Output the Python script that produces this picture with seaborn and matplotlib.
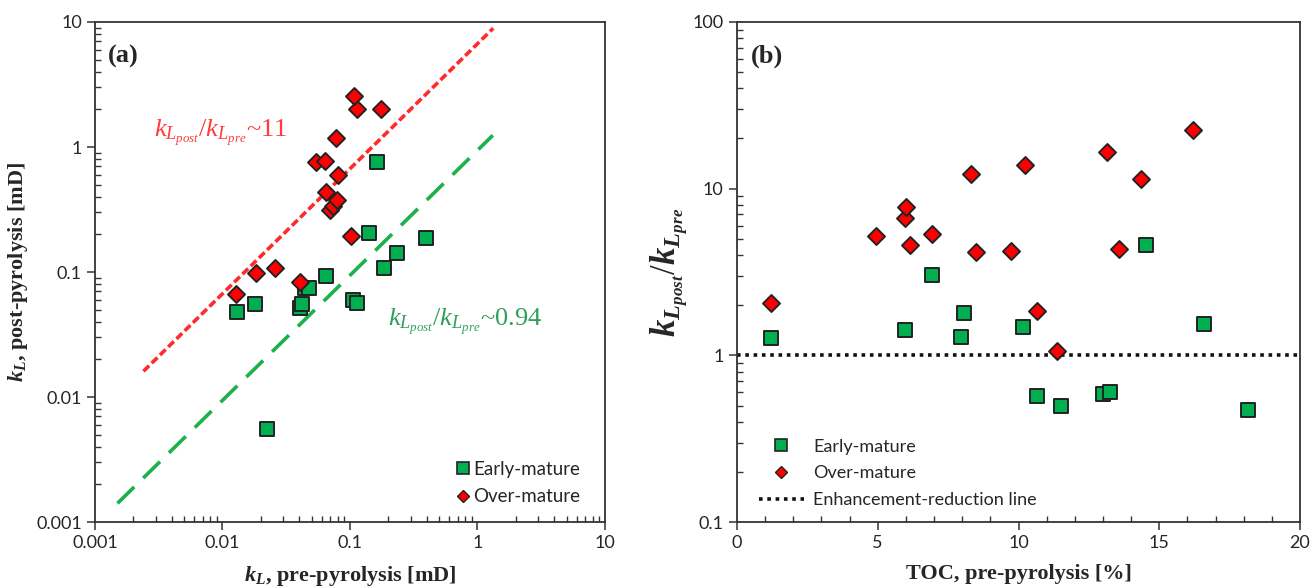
import numpy as np
import pandas as pd
import matplotlib
matplotlib.use("Agg")
import matplotlib.pyplot as plt
from matplotlib.lines import Line2D
from matplotlib.ticker import LogLocator, MultipleLocator, FixedLocator
import seaborn as sns

# --- datos panel (a): permeabilidad pre vs post pirólisis [mD]
early_pre = [0.013, 0.018, 0.0223, 0.0405, 0.042, 0.044, 0.0477, 0.065, 0.106, 0.113, 0.141, 0.163, 0.185, 0.234, 0.394]
early_post = [0.048, 0.055, 0.0055, 0.0514, 0.0555, 0.0745, 0.0745, 0.093, 0.0597, 0.057, 0.205, 0.76, 0.108, 0.142, 0.187]
over_pre = [0.0128, 0.0183, 0.0259, 0.0405, 0.102, 0.070, 0.074, 0.079, 0.065, 0.080, 0.054, 0.0636, 0.078, 0.113, 0.107, 0.175]
over_post = [0.067, 0.098, 0.108, 0.083, 0.194, 0.313, 0.34, 0.377, 0.437, 0.60, 0.76, 0.77, 1.18, 2.01, 2.56, 2.0]

# rectas de razón k_post/k_pre
red_fit_x = [0.0024, 1.33]
red_fit_ratio = 6.7
green_fit_x = [0.0015, 1.32]
green_fit_ratio = 0.94

# --- datos panel (b): razón vs TOC [%]
early_toc = [1.21, 5.96, 6.91, 7.96, 8.06, 10.16, 10.65, 11.51, 13.0, 13.25, 14.53, 16.59, 18.15]
early_ratio = [1.27, 1.42, 3.03, 1.29, 1.79, 1.48, 0.573, 0.499, 0.583, 0.602, 4.61, 1.54, 0.473]
over_toc = [1.22, 4.93, 5.96, 6.0, 6.15, 6.94, 8.32, 8.5, 9.74, 10.22, 10.66, 11.35, 13.16, 13.56, 14.34, 16.18]
over_ratio = [2.07, 5.21, 6.67, 7.78, 4.57, 5.31, 12.3, 4.15, 4.22, 13.8, 1.85, 1.06, 16.7, 4.32, 11.4, 22.6]

log_ticks_a = [0.001, 0.01, 0.1, 1, 10]
log_ticklabels_a = ['0.001', '0.01', '0.1', '1', '10']
log_ticks_b = [0.1, 1, 10, 100]
log_ticklabels_b = ['0.1', '1', '10', '100']

GREEN = '#00B050'
RED = '#FF0000'

sns.set_theme(style='white')
plt.rcParams['font.family'] = ['Lato', 'DejaVu Sans']
plt.rcParams['mathtext.fontset'] = 'custom'
plt.rcParams['mathtext.rm'] = 'Liberation Serif'
plt.rcParams['mathtext.it'] = 'Liberation Serif:italic'
plt.rcParams['mathtext.bf'] = 'Liberation Serif:bold'
plt.rcParams['mathtext.bfit'] = 'Liberation Serif:italic:bold'

df_a = pd.concat([
    pd.DataFrame({'pre': early_pre, 'post': early_post, 'grupo': 'Early-mature'}),
    pd.DataFrame({'pre': over_pre, 'post': over_post, 'grupo': 'Over-mature'}),
])
df_b = pd.concat([
    pd.DataFrame({'toc': early_toc, 'ratio': early_ratio, 'grupo': 'Early-mature'}),
    pd.DataFrame({'toc': over_toc, 'ratio': over_ratio, 'grupo': 'Over-mature'}),
])

palette = {'Early-mature': GREEN, 'Over-mature': RED}
markers = {'Early-mature': 's', 'Over-mature': 'D'}
sizes = {'Early-mature': 90, 'Over-mature': 75}

fig = plt.figure(figsize=(13.12, 5.88), dpi=100)
ax1 = fig.add_axes([0.0724, 0.1122, 0.3887, 0.8504])
ax2 = fig.add_axes([0.5617, 0.1122, 0.4292, 0.8504])

serif = 'Liberation Serif'

def estilo_ejes(ax):
    for s in ax.spines.values():
        s.set_visible(True)
        s.set_color('#333333')
        s.set_linewidth(1.3)
    ax.tick_params(which='major', direction='out', length=6, width=1.1, color='#333333',
                   labelsize=13, bottom=True, left=True)
    ax.tick_params(which='minor', direction='in', length=4, width=1.0, color='#333333',
                   bottom=True, left=True)

# ---------------- panel (a)
for g in ['Early-mature', 'Over-mature']:
    sub = df_a[df_a['grupo'] == g]
    sns.scatterplot(data=sub, x='pre', y='post', marker=markers[g], color=palette[g],
                    s=sizes[g], edgecolor='#222222', linewidth=1.4, ax=ax1, legend=False, zorder=3)

rx = np.array(red_fit_x)
gx = np.array(green_fit_x)
ax1.plot(rx, red_fit_ratio * rx, color='#FF2A2A', lw=2.6, dashes=(2.2, 1.0), zorder=2)
ax1.plot(gx, green_fit_ratio * gx, color='#1DB04B', lw=2.6, dashes=(6.5, 3.5), zorder=2)

ax1.set_xscale('log')
ax1.set_yscale('log')
ax1.set_xlim(0.001, 10)
ax1.set_ylim(0.001, 10)
ax1.xaxis.set_major_locator(FixedLocator(log_ticks_a))
ax1.yaxis.set_major_locator(FixedLocator(log_ticks_a))
ax1.xaxis.set_minor_locator(LogLocator(base=10, subs=np.arange(2, 10)))
ax1.yaxis.set_minor_locator(LogLocator(base=10, subs=np.arange(2, 10)))
ax1.set_xticklabels(log_ticklabels_a)
ax1.set_yticklabels(log_ticklabels_a)
estilo_ejes(ax1)

ax1.set_xlabel(r'$\mathbfit{k}_{\mathbfit{L}}$, pre-pyrolysis [mD]', family=serif, fontweight='bold',
               fontsize=16, labelpad=9)
ax1.set_ylabel(r'$\mathbfit{k}_{\mathbfit{L}}$, post-pyrolysis [mD]', family=serif, fontweight='bold',
               fontsize=16, labelpad=4)
ax1.text(0.025, 0.955, '(a)', transform=ax1.transAxes, family=serif, fontweight='bold', fontsize=19, va='top')
ax1.text(0.0029, 1.3, r'$k_{L_{post}}/k_{L_{pre}}$~11', color='#FF3B3B', fontsize=19, family=serif, va='center')
ax1.text(0.2, 0.04, r'$k_{L_{post}}/k_{L_{pre}}$~0.94', color='#2E9E5B', fontsize=19, family=serif, va='center')

h1 = [Line2D([], [], ls='none', marker='s', mfc=GREEN, mec='#222222', mew=1.2, ms=8),
      Line2D([], [], ls='none', marker='D', mfc=RED, mec='#222222', mew=1.0, ms=6.5)]
ax1.legend(h1, ['Early-mature', 'Over-mature'], loc='lower right', frameon=False, fontsize=13.5,
           handletextpad=0.05, handlelength=1.0, labelspacing=0.55, bbox_to_anchor=(0.985, 0.0))

# ---------------- panel (b)
for g in ['Early-mature', 'Over-mature']:
    sub = df_b[df_b['grupo'] == g]
    sns.scatterplot(data=sub, x='toc', y='ratio', marker=markers[g], color=palette[g],
                    s=sizes[g], edgecolor='#222222', linewidth=1.4, ax=ax2, legend=False, zorder=3)
ax2.axhline(1, color='#111111', lw=2.6, dashes=(1.0, 1.3), zorder=2)

ax2.set_yscale('log')
ax2.set_xlim(0, 20)
ax2.set_ylim(0.1, 100)
ax2.xaxis.set_major_locator(MultipleLocator(5))
ax2.xaxis.set_minor_locator(MultipleLocator(1))
ax2.yaxis.set_major_locator(FixedLocator(log_ticks_b))
ax2.yaxis.set_minor_locator(LogLocator(base=10, subs=np.arange(2, 10)))
ax2.set_yticklabels(log_ticklabels_b)
estilo_ejes(ax2)

ax2.set_xlabel('TOC, pre-pyrolysis [%]', family=serif, fontweight='bold', fontsize=16, labelpad=9)
ax2.set_ylabel(r'$\mathbfit{k}_{\mathbfit{L}_{\mathbfit{post}}}/\mathbfit{k}_{\mathbfit{L}_{\mathbfit{pre}}}$',
               family=serif, fontsize=25, labelpad=2)
ax2.text(0.025, 0.955, '(b)', transform=ax2.transAxes, family=serif, fontweight='bold', fontsize=19, va='top')

h2 = [Line2D([], [], ls='none', marker='s', mfc=GREEN, mec='#222222', mew=1.2, ms=8),
      Line2D([], [], ls='none', marker='D', mfc=RED, mec='#222222', mew=1.0, ms=6.5),
      Line2D([], [], color='#111111', lw=2.6, dashes=(1.0, 1.3))]
ax2.legend(h2, ['Early-mature', 'Over-mature', 'Enhancement-reduction line'], loc='lower left',
           frameon=False, fontsize=13, handlelength=2.5, handletextpad=0.5, labelspacing=0.6,
           bbox_to_anchor=(0.01, -0.005))

fig.savefig('out.png', dpi=100)
